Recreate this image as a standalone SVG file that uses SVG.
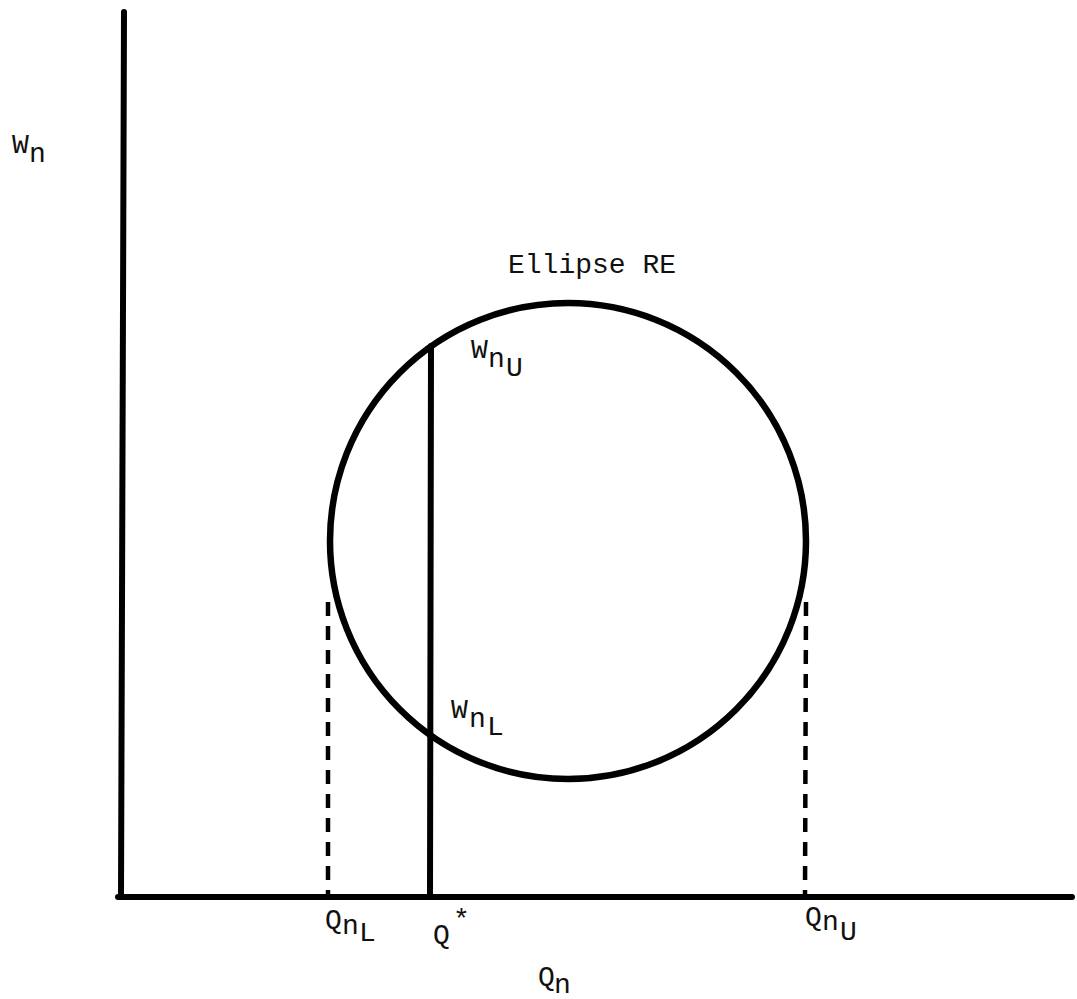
<svg xmlns="http://www.w3.org/2000/svg" width="1077" height="999" viewBox="0 0 1077 999">
<style>
.ln{stroke:#000;fill:none;stroke-linecap:round}
.ax{stroke-width:6}
.dash{stroke-width:4.5;stroke-dasharray:14 10;stroke-linecap:butt}
text{font-family:"Liberation Mono","Courier New",monospace;font-size:28px;fill:#111}
</style>
<rect width="1077" height="999" fill="#fff"/>
<g id="connectors">
<line class="ln ax" x1="124" y1="12" x2="121" y2="897"/>
<line class="ln ax" x1="118" y1="897" x2="1072" y2="897"/>
<line class="ln ax" x1="431" y1="346" x2="430" y2="897"/>
<line class="ln dash" x1="328" y1="602" x2="328" y2="895"/>
<line class="ln dash" x1="806" y1="602" x2="805" y2="895"/>
</g>
<g id="ellipse">
<ellipse class="ln" cx="568" cy="541" rx="238" ry="238" stroke-width="6.5"/>
</g>
<g id="labels">
<text x="12" y="153">W<tspan x="29" y="162">n</tspan></text>
<text x="508" y="273" font-size="29">Ellipse RE</text>
<text x="471" y="358">W<tspan x="488" y="367">n</tspan><tspan x="506" y="376">U</tspan></text>
<text x="451" y="718">W<tspan x="469" y="727">n</tspan><tspan x="487" y="735">L</tspan></text>
<text x="325" y="928">Q<tspan x="342" y="934">n</tspan><tspan x="359" y="941">L</tspan></text>
<text x="433" y="943">Q<tspan x="453" y="928">*</tspan></text>
<text x="805" y="925">Q<tspan x="822" y="930">n</tspan><tspan x="840" y="940">U</tspan></text>
<text x="538" y="985">Q<tspan x="554" y="993">n</tspan></text>
</g>
</svg>
